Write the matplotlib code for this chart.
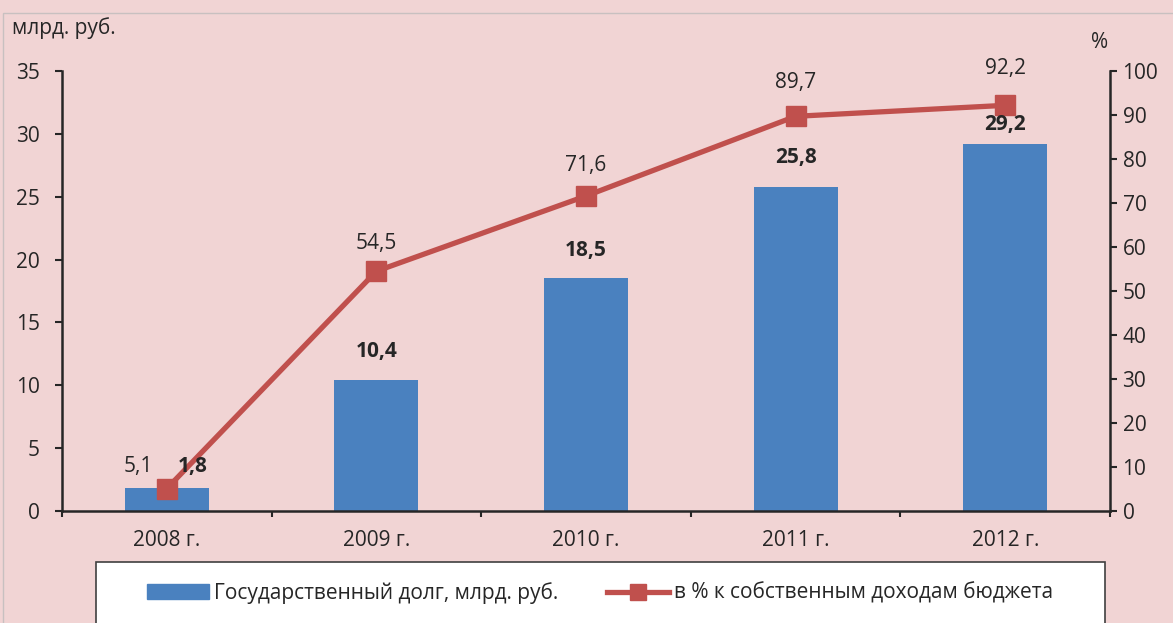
import numpy as np
import matplotlib.pyplot as plt
from matplotlib.patches import Rectangle
from matplotlib.lines import Line2D

plt.rcParams['font.family'] = ['Open Sans', 'DejaVu Sans']

#*--данные--------------------------------------------------------------------
years = ['2008 г.', '2009 г.', '2010 г.', '2011 г.', '2012 г.']
debt = [1.8, 10.4, 18.5, 25.8, 29.2]
share = [5.1, 54.5, 71.6, 89.7, 92.2]
debt_name = 'Государственный долг, млрд. руб.'
share_name = 'в % к собственным доходам бюджета'

bg = '#F1D4D4'
c_bar = '#4A81BF'
c_line = '#C0504D'
c_txt = '#262626'
fs = 15

fig = plt.figure(figsize=(11.73, 6.23), dpi=100, facecolor=bg)
ax1 = fig.add_axes([62/1173, 1-511/623, (1110-62)/1173, 440/623])
ax1.set_facecolor(bg)
ax2 = ax1.twinx()

x = np.arange(len(years))
ax1.bar(x, debt, width=0.4, color=c_bar, zorder=2)
ax2.plot(x, share, color=c_line, lw=3.8, marker='s', ms=15,
         mfc=c_line, mec=c_line, zorder=3)

ax1.set_xlim(-0.5, 4.5)
ax1.set_ylim(0, 35)
ax2.set_ylim(0, 100)
ax1.set_yticks(range(0, 36, 5))
ax2.set_yticks(range(0, 101, 10))
ax1.set_xticks(x)
ax1.set_xticklabels(years)
ax1.set_xticks(np.arange(-0.5, 5, 1), minor=True)
ax1.tick_params(axis='x', which='major', length=0, pad=14, labelsize=fs, labelcolor=c_txt)
ax1.tick_params(axis='x', which='minor', length=4.5, width=1.5, color=c_txt)
ax1.tick_params(axis='y', length=5, width=1.5, color=c_txt, labelsize=fs,
                labelcolor=c_txt, pad=11)
ax2.tick_params(axis='y', length=5, width=1.5, color=c_txt, labelsize=fs,
                labelcolor=c_txt, pad=4)

for a in (ax1, ax2):
    for s in a.spines.values():
        s.set_visible(False)
ax1.spines['left'].set_visible(True)
ax1.spines['bottom'].set_visible(True)
ax2.spines['right'].set_visible(True)
for s in (ax1.spines['left'], ax1.spines['bottom'], ax2.spines['right']):
    s.set_linewidth(1.8)
    s.set_color(c_txt)

#*--подписи значений (смещения в пикселях)-----------------------------------
# подписи столбцов рисуем на ax2, чтобы они были поверх линии
bar_dx = [26, 0, 0, 0, 0]
bar_dy = [22, 29, 28, 29, 19]
for i, v in enumerate(debt):
    ax2.annotate(f'{v:.1f}'.replace('.', ','), (x[i], v), xycoords=ax1.transData,
                 xytext=(bar_dx[i], bar_dy[i]), textcoords='offset pixels',
                 ha='center', va='center', fontsize=fs, fontweight='bold',
                 color=c_txt, zorder=5)

line_dx = [-28, 0, 0, 0, 0]
line_dy = [22, 28, 30, 34, 37]
for i, v in enumerate(share):
    ax2.annotate(f'{v:.1f}'.replace('.', ','), (x[i], v),
                 xytext=(line_dx[i], line_dy[i]), textcoords='offset pixels',
                 ha='center', va='center', fontsize=fs, color=c_txt, zorder=5)

fig.text(12/1173, 1-28/623, 'млрд. руб.', fontsize=fs, color=c_txt,
         ha='left', va='center')
fig.text(1100/1173, 1-43/623, '%', fontsize=fs, color=c_txt,
         ha='center', va='center')

#*--рамка диаграммы и легенда-----------------------------------------------
fig.patches.append(Rectangle((3/1173, -0.01), 1.1, 1-13/623+0.01,
                             transform=fig.transFigure, fill=False,
                             edgecolor='#C8C0C0', lw=1))
fig.patches.append(Rectangle((96/1173, -0.01), (1105-96)/1173, 1-562/623+0.01,
                             transform=fig.transFigure, facecolor='white',
                             edgecolor='#404040', lw=1.2))
handles = [Rectangle((0, 0), 1, 1, color=c_bar),
           Line2D([], [], color=c_line, lw=3.8, marker='s', ms=11)]
fig.legend(handles, [debt_name, share_name], ncol=2, frameon=False,
           loc='center', bbox_to_anchor=(600/1173, 1-593/623), fontsize=fs,
           handlelength=3.0, columnspacing=2.3, handletextpad=0.25,
           labelcolor=c_txt)

fig.savefig('out.png', dpi=100, facecolor=bg)
